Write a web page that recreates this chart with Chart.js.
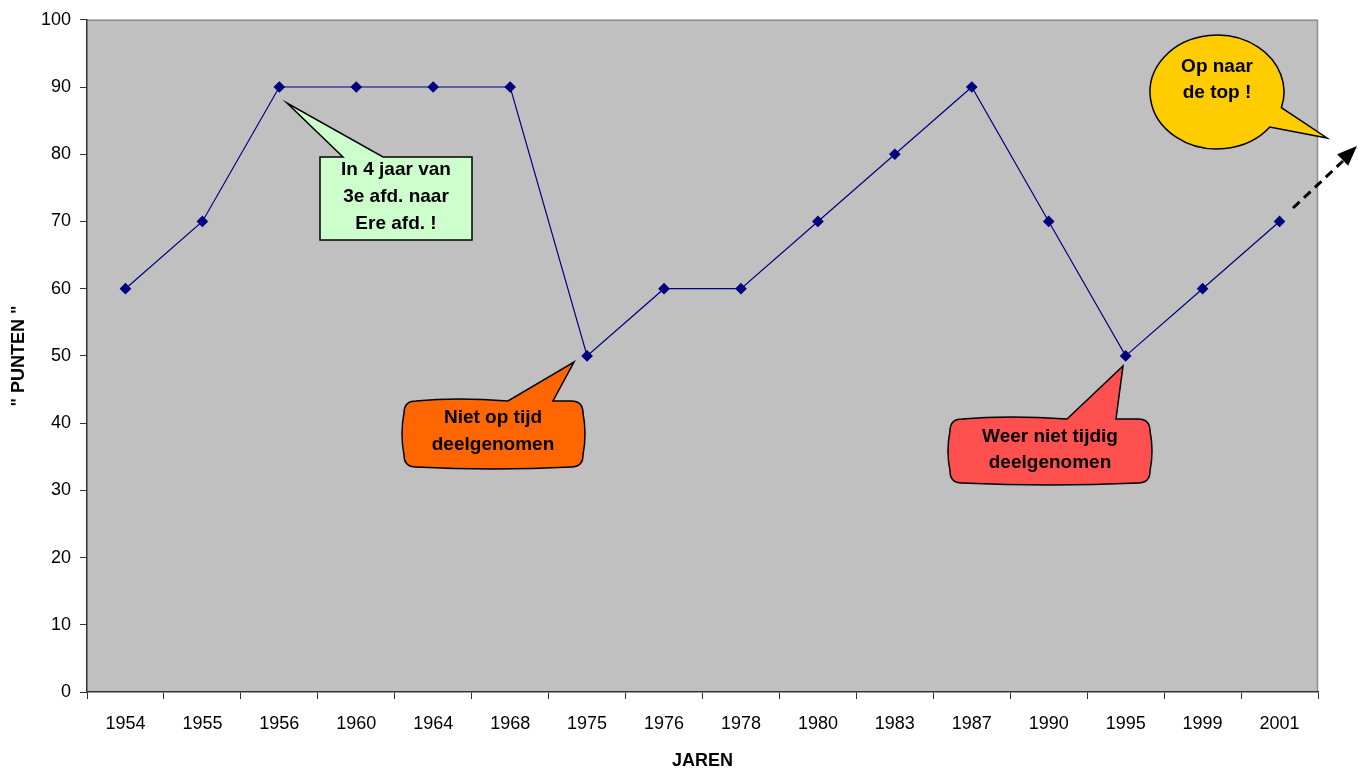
<!DOCTYPE html>
<html>
<head>
<meta charset="utf-8">
<script src="https://cdn.jsdelivr.net/npm/chart.js@4"></script>
<style>
  body { margin: 0; background: #fff; }
  #wrap { width: 1358px; height: 770px; }
</style>
</head>
<body>
<div id="wrap"><canvas id="chart-1" width="1358" height="770"></canvas></div>
<script>
// data
var jaren = ['1954', '1955', '1956', '1960', '1964', '1968', '1975', '1976', '1978', '1980', '1983', '1987', '1990', '1995', '1999', '2001'];
var punten = [60, 70, 90, 90, 90, 90, 50, 60, 60, 70, 80, 90, 70, 50, 60, 70];
var yTicks = [0, 10, 20, 30, 40, 50, 60, 70, 80, 90, 100];

var FONT = '"Liberation Sans", Arial, sans-serif';

// achtergrond van het plotgebied
var plotBg = {
    id: 'plotBg',
    beforeDraw: function (chart) {
        var a = chart.chartArea, c = chart.ctx;
        c.save();
        c.fillStyle = '#C0C0C0';
        c.fillRect(a.left, a.top, a.right - a.left, a.bottom - a.top);
        c.strokeStyle = '#8c8c8c';
        c.lineWidth = 1.5;
        c.beginPath();
        c.moveTo(a.left, a.top + 0.5);
        c.lineTo(a.right - 0.5, a.top + 0.5);
        c.lineTo(a.right - 0.5, a.bottom);
        c.stroke();
        c.restore();
    }
};

function writeLines(c, lines, x, ys) {
    c.fillStyle = '#000';
    c.font = 'bold 19px ' + FONT;
    c.textAlign = 'center';
    c.textBaseline = 'middle';
    for (var i = 0; i < lines.length; i++) c.fillText(lines[i], x, ys[i]);
}

// rechthoekige ballon met staart aan de bovenkant
function boxCallout(c, b, t, fill, round) {
    var r = round ? 12 : 0, k = round ? 4 : 0;
    c.save();
    c.beginPath();
    c.moveTo(b.x1 + r, b.y1);
    c.quadraticCurveTo((b.x1 + t.b1) / 2, b.y1 - k, t.b1, b.y1);
    c.lineTo(t.x, t.y);
    c.lineTo(t.b2, b.y1);
    c.lineTo(b.x2 - r, b.y1);
    c.quadraticCurveTo(b.x2, b.y1, b.x2, b.y1 + r);
    c.quadraticCurveTo(b.x2 + k, (b.y1 + b.y2) / 2, b.x2, b.y2 - r);
    c.quadraticCurveTo(b.x2, b.y2, b.x2 - r, b.y2);
    c.quadraticCurveTo((b.x1 + b.x2) / 2, b.y2 + k, b.x1 + r, b.y2);
    c.quadraticCurveTo(b.x1, b.y2, b.x1, b.y2 - r);
    c.quadraticCurveTo(b.x1 - k, (b.y1 + b.y2) / 2, b.x1, b.y1 + r);
    c.quadraticCurveTo(b.x1, b.y1, b.x1 + r, b.y1);
    c.closePath();
    c.fillStyle = fill;
    c.fill();
    c.strokeStyle = '#000';
    c.lineWidth = 1.5;
    c.stroke();
    c.restore();
}

var callouts = {
    id: 'callouts',
    afterDatasetsDraw: function (chart) {
        var c = chart.ctx;

        boxCallout(c, {x1: 320, y1: 157, x2: 472, y2: 240}, {b1: 343, b2: 383, x: 287, y: 103}, '#CCFFCC', false);
        writeLines(c, ['In 4 jaar van', '3e afd. naar', 'Ere afd. !'], 396, [170, 197, 224]);

        boxCallout(c, {x1: 404, y1: 401, x2: 583, y2: 467}, {b1: 508, b2: 553, x: 574, y: 362}, '#FF6600', true);
        writeLines(c, ['Niet op tijd', 'deelgenomen'], 493, [418, 445]);

        boxCallout(c, {x1: 950, y1: 419, x2: 1150, y2: 483}, {b1: 1067, b2: 1116, x: 1123, y: 366}, '#FF5050', true);
        writeLines(c, ['Weer niet tijdig', 'deelgenomen'], 1050, [437, 463]);

        // ovale ballon
        var cx = 1217, cy = 92, rx = 67, ry = 57;
        c.save();
        c.beginPath();
        c.ellipse(cx, cy, rx, ry, 0, 38 * Math.PI / 180, (16 + 360) * Math.PI / 180);
        c.lineTo(1327, 138);
        c.closePath();
        c.fillStyle = '#FFCC00';
        c.fill();
        c.strokeStyle = '#000';
        c.lineWidth = 1.5;
        c.stroke();
        c.restore();
        writeLines(c, ['Op naar', 'de top !'], 1217, [67, 93]);

        // gestippelde pijl
        c.save();
        c.strokeStyle = '#000';
        c.lineWidth = 3;
        c.setLineDash([9, 6]);
        c.beginPath();
        c.moveTo(1293, 208);
        c.lineTo(1343, 161);
        c.stroke();
        c.setLineDash([]);
        var tx = 1357, ty = 146, ang = Math.atan2(ty - 208, tx - 1293), L = 20, W = 8;
        c.beginPath();
        c.moveTo(tx, ty);
        c.lineTo(tx - L * Math.cos(ang) + W * Math.sin(ang), ty - L * Math.sin(ang) - W * Math.cos(ang));
        c.lineTo(tx - L * Math.cos(ang) - W * Math.sin(ang), ty - L * Math.sin(ang) + W * Math.cos(ang));
        c.closePath();
        c.fillStyle = '#000';
        c.fill();
        c.restore();
    }
};

var ctx = document.getElementById('chart-1').getContext('2d');
var chart = new Chart(ctx, {
    type: 'line',
    data: {
        labels: jaren,
        datasets: [{
            label: 'Punten',
            data: punten,
            borderColor: '#000080',
            backgroundColor: '#000080',
            borderWidth: 1.2,
            pointStyle: 'rectRot',
            pointRadius: 5,
            pointHoverRadius: 5,
            tension: 0,
            fill: false
        }]
    },
    options: {
        responsive: false,
        animation: false,
        layout: { padding: { top: 19, right: 40, left: 0, bottom: 0 } },
        plugins: {
            legend: { display: false },
            tooltip: { enabled: false }
        },
        scales: {
            x: {
                type: 'category',
                offset: true,
                grid: { offset: true, drawOnChartArea: false, tickLength: 7, color: '#333', lineWidth: 1 },
                border: { color: '#333', width: 1.5 },
                ticks: { color: '#000', font: { family: FONT, size: 18 }, padding: 14, maxRotation: 0, autoSkip: false },
                title: { display: true, text: 'JAREN', color: '#000', font: { family: FONT, size: 18, weight: 'bold' }, padding: { top: 0, bottom: -2 } },
                afterFit: function (s) { s.height = 78; }
            },
            y: {
                min: 0,
                max: 100,
                afterBuildTicks: function (s) { s.ticks = yTicks.map(function (v) { return { value: v }; }); },
                grid: { drawOnChartArea: false, tickLength: 7, color: '#333', lineWidth: 1 },
                border: { color: '#333', width: 1.5 },
                ticks: { color: '#000', font: { family: FONT, size: 18 }, padding: 9 },
                title: { display: true, text: '" PUNTEN "', color: '#000', font: { family: FONT, size: 18, weight: 'bold' }, padding: { top: 8, bottom: 0 } },
                afterFit: function (s) { s.width = 87; }
            }
        }
    },
    plugins: [plotBg, callouts]
});
</script>
</body>
</html>
